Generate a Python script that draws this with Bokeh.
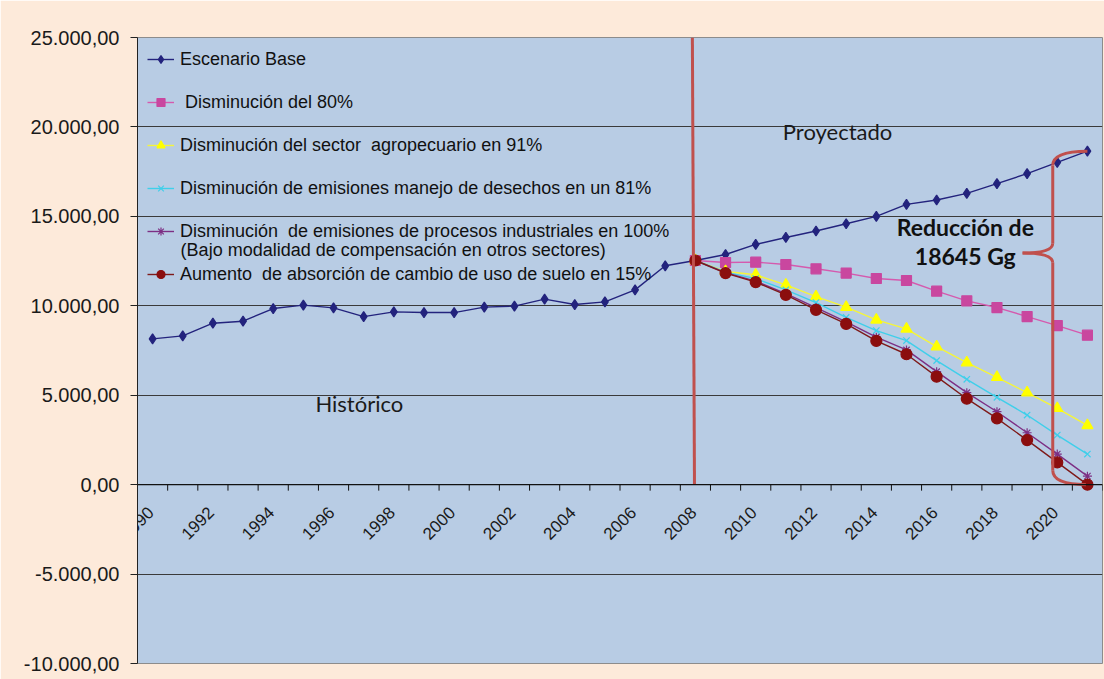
import math
from bokeh.plotting import figure
from bokeh.models import Range1d, FixedTicker, Legend, LegendItem, Label, Span
from bokeh.core.properties import value
from bokeh.embed import file_html
from bokeh.resources import INLINE

# ---------------- data ----------------
years = list(range(1990, 2022))
proj_years = list(range(2008, 2022))

base = [8150, 8316, 9027, 9139, 9845, 10035, 9884, 9397, 9660, 9621, 9621,
        9923, 9979, 10371, 10069, 10220, 10892, 12236, 12533,
        12869, 13429, 13821, 14179, 14588, 14997, 15669, 15915, 16285,
        16828, 17388, 18021, 18645]
dism80 = [12533, 12421, 12440, 12309, 12068, 11827, 11525, 11413, 10819,
          10276, 9901, 9397, 8893, 8355]
agro91 = [12533, 11917, 11732, 11172, 10517, 9923, 9212, 8708, 7717, 6821,
          6003, 5141, 4267, 3315]
desechos81 = [12533, 11880, 11520, 10892, 10181, 9350, 8615, 8055, 6935,
              5890, 4883, 3892, 2772, 1708]
industriales100 = [12533, 11850, 11380, 10680, 9900, 9100, 8243, 7532, 6317,
                   5141, 4077, 2901, 1708, 476]
suelo15 = [12533, 11827, 11323, 10612, 9772, 8988, 8036, 7291, 6037, 4805,
           3707, 2492, 1243, 0]

labels = ["Escenario Base",
          " Disminución del 80%",
          "Disminución del sector  agropecuario en 91%",
          "Disminución de emisiones manejo de desechos en un 81%",
          "Disminución  de emisiones de procesos industriales en 100%",
          "Aumento  de absorción de cambio de uso de suelo en 15%"]
label5_line2 = "(Bajo modalidad de compensación en otros sectores)"

y_ticks = [-10000, -5000, 0, 5000, 10000, 15000, 20000, 25000]
y_tick_labels = ["-10.000,00", "-5.000,00", "0,00", "5.000,00", "10.000,00",
                 "15.000,00", "20.000,00", "25.000,00"]
x_label_years = list(range(1990, 2021, 2))

split_year = 2008
reduction = 18645

# ---------------- figure ----------------
p = figure(width=1104, height=679, output_backend="svg", toolbar_location=None,
           x_range=Range1d(years[0] - 0.5, years[-1] + 0.5),
           y_range=Range1d(y_ticks[0], y_ticks[-1]),
           x_axis_location=None,
           min_border_left=137, min_border_right=2, min_border_top=37,
           min_border_bottom=16,
           background_fill_color="#B8CCE4", border_fill_color="#FDEADA")
p.outline_line_color = "#8c8c8c"

p.xgrid.visible = False
p.ygrid.ticker = FixedTicker(ticks=y_ticks)
p.ygrid.grid_line_color = "#3a3a3a"
p.ygrid.grid_line_width = 1

ax = p.yaxis[0]
ax.ticker = FixedTicker(ticks=y_ticks)
ax.major_label_overrides = {t: l for t, l in zip(y_ticks, y_tick_labels)}
ax.minor_tick_line_color = None
ax.major_tick_in = 0
ax.major_tick_out = 7
ax.axis_line_color = "#222222"
ax.major_tick_line_color = "#222222"
ax.major_label_text_font = "Liberation Sans"
ax.major_label_text_font_size = "20px"
ax.major_label_text_color = "#1a1a1a"
ax.major_label_standoff = 11

# zero line as category axis
p.add_layout(Span(location=0, dimension="width", line_color="#111111", line_width=1.2))
bounds = [y - 0.5 for y in years] + [years[-1] + 0.5]
p.ray(x=bounds, y=[0] * len(bounds), length=6, length_units="screen",
      angle=-math.pi / 2, line_color="#111111", line_width=1)
p.text(x=x_label_years, y=[0] * len(x_label_years),
       text=[str(y) for y in x_label_years], angle=math.pi / 4,
       text_align="right", text_baseline="middle", x_offset=-2, y_offset=25,
       text_font=value("Liberation Sans"), text_font_size="17px",
       text_color="#1a1a1a")

# ---------------- series ----------------
series = [
    (years, base, "#23237D", "#23237D", "diamond", 10),
    (proj_years, dism80, "#D55AAE", "#C9479F", "square", 10),
    (proj_years, agro91, "#F5F53A", "#FFFF00", "triangle", 11),
    (proj_years, desechos81, "#3FCFEA", "#3FCFEA", "x", 9),
    (proj_years, industriales100, "#7D2F84", "#7D2F84", "asterisk", 9),
    (proj_years, suelo15, "#7E1A1A", "#8B0E0E", "circle", 11),
]
items = []
for (xs, ys, lc, mc, mk, sz), lab in zip(series, labels):
    lr = p.line(xs, ys, line_color=lc, line_width=1.4)
    sr = p.scatter(xs, ys, marker=mk, size=sz, fill_color=mc, line_color=mc,
                   line_width=1.2)
    items.append(LegendItem(label=lab, renderers=[lr, sr]))

legend = Legend(items=items, location="top_left", margin=10, padding=10,
                spacing=19, label_height=24, glyph_height=20, glyph_width=27,
                label_standoff=6, background_fill_alpha=0,
                border_line_color=None, label_text_font="Liberation Sans",
                label_text_font_size="18px", label_text_color="#111111")
p.add_layout(legend)

p.add_layout(Label(x=1990.93, y=13130, text=label5_line2,
                   text_font="Liberation Sans", text_font_size="18px",
                   text_color="#111111", text_baseline="middle"))

# ---------------- annotations ----------------
red = "#C0504D"
p.segment(x0=[split_year - 0.1], y0=[y_ticks[-1]], x1=[split_year - 0.03], y1=[0],
          line_color=red, line_width=3)

# curly brace showing the reduction
xb = years[-1] - 1.15
tip_x = years[-1] - 2.15
tip_y = 12950
top = reduction
p.quadratic(x0=[years[-1]], y0=[top], x1=[xb], y1=[top - 800], cx=[xb], cy=[top],
            line_color=red, line_width=3)
p.segment(x0=[xb], y0=[top - 800], x1=[xb], y1=[tip_y + 550],
          line_color=red, line_width=3)
p.quadratic(x0=[xb], y0=[tip_y + 550], x1=[tip_x], y1=[tip_y], cx=[xb], cy=[tip_y],
            line_color=red, line_width=3)
p.quadratic(x0=[tip_x], y0=[tip_y], x1=[xb], y1=[tip_y - 550], cx=[xb], cy=[tip_y],
            line_color=red, line_width=3)
p.segment(x0=[xb], y0=[tip_y - 550], x1=[xb], y1=[800],
          line_color=red, line_width=3)
p.quadratic(x0=[xb], y0=[800], x1=[years[-1] - 0.05], y1=[0], cx=[xb], cy=[0],
            line_color=red, line_width=3)

p.add_layout(Label(x=2010.9, y=19750, text="Proyectado", text_font="Lato",
                   text_font_size="22px", text_color="#1a1a1a",
                   text_baseline="middle"))
p.add_layout(Label(x=1995.4, y=4560, text="Histórico", text_font="Lato",
                   text_font_size="22px", text_color="#1a1a1a",
                   text_baseline="middle"))
p.add_layout(Label(x=2016.95, y=14420, text="Reducción de", text_font="Lato",
                   text_font_size="23px", text_font_style="bold",
                   text_color="#111111", text_align="center",
                   text_baseline="middle"))
p.add_layout(Label(x=2016.95, y=12800, text="18645 Gg", text_font="Lato",
                   text_font_size="23px", text_font_style="bold",
                   text_color="#111111", text_align="center",
                   text_baseline="middle"))

open("out.html", "w").write(file_html(p, INLINE))
